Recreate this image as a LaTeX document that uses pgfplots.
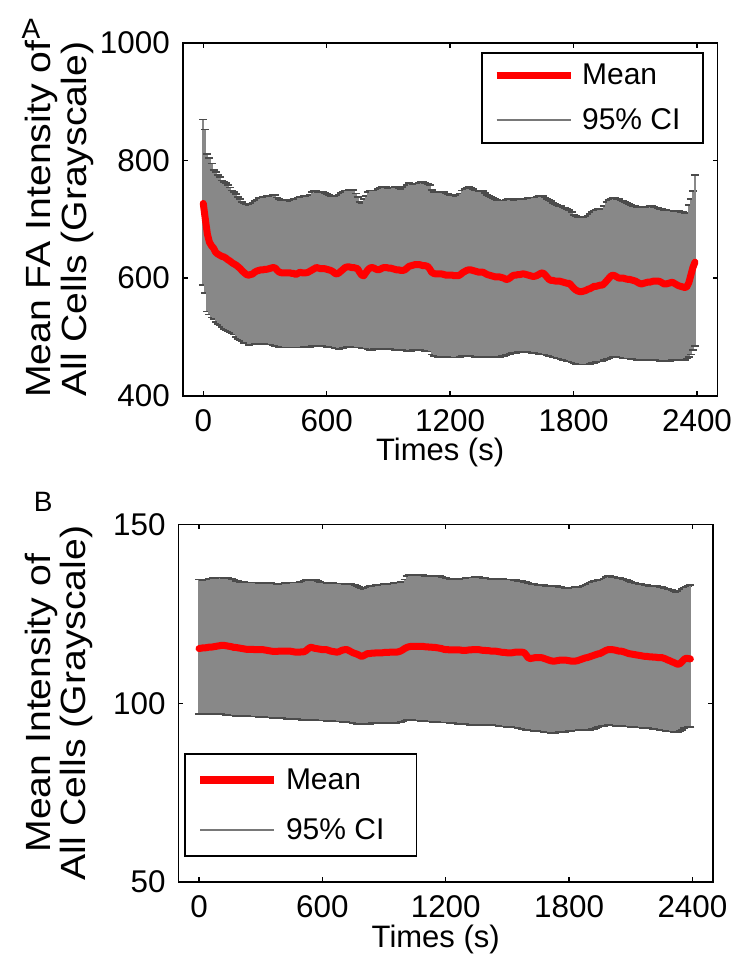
\documentclass[border=0pt]{standalone}
\usepackage{fontspec}
\setmainfont{Liberation Sans}
\usepackage{graphicx}
\usepackage{pgfplots}
\usepackage{pgfplotstable}
\pgfplotsset{compat=1.18}
\definecolor{barc}{RGB}{136,136,136}
\definecolor{capc}{RGB}{75,75,75}
\definecolor{legc}{RGB}{120,120,120}

% panel A: mean and 95% CI bounds, one row every 10 s
\pgfplotstableread{
t m hi lo
0 727 870 588
10 700 853 575
20 675 811 543
30 661 805 538
40 655 795 533
50 651 784 530
60 644 781 525
70 641 776 522
80 639 772 520
90 637 766 517
100 636 764 514
110 634 762 512
120 631 758 510
130 629 754 508
140 626 749 506
150 624 746 504
160 622 743 500
170 619 738 497
180 616 735 495
190 612 730 493
200 609 727 490
210 606 726 489
220 605 725 486
230 606 726 487
240 607 728 487
250 610 731 488
260 612 733 488
270 613 736 488
280 614 737 488
290 614 738 488
300 615 738 488
310 615 739 488
320 616 740 487
330 617 739 487
340 618 742 486
350 617 742 485
360 613 737 484
370 610 734 483
380 609 733 483
390 609 733 482
400 609 732 482
410 609 732 482
420 609 731 482
430 608 733 482
440 608 734 482
450 606 735 482
460 608 737 482
470 610 738 482
480 609 738 482
490 609 739 483
500 609 740 483
510 610 740 483
520 612 741 483
530 614 746 484
540 616 749 484
550 618 748 484
560 617 747 484
570 616 746 484
580 616 746 484
590 616 745 484
600 615 743 483
610 614 741 483
620 613 740 483
630 611 739 482
640 608 739 481
650 607 739 480
660 609 742 479
670 612 745 480
680 615 747 481
690 618 749 482
700 619 749 483
710 619 750 483
720 618 750 483
730 618 750 483
740 617 744 482
750 616 738 482
760 610 730 482
770 605 727 481
780 604 735 480
790 609 740 480
800 614 746 479
810 617 749 478
820 618 749 478
830 617 749 479
840 615 749 479
850 614 751 479
860 615 753 479
870 617 755 479
880 618 756 479
890 618 755 479
900 617 753 479
910 617 753 479
920 616 754 479
930 615 756 478
940 614 755 478
950 614 753 478
960 613 752 478
970 613 752 477
980 614 755 477
990 617 759 476
1000 620 762 476
1010 621 761 476
1020 622 760 477
1030 623 760 478
1040 623 761 478
1050 623 762 478
1060 622 763 477
1070 621 764 477
1080 621 762 476
1090 620 760 476
1100 616 758 475
1110 610 750 470
1120 608 746 467
1130 607 746 467
1140 607 747 466
1150 607 747 466
1160 607 747 466
1170 606 746 466
1180 605 744 466
1190 605 743 466
1200 605 742 466
1210 605 741 465
1220 604 741 465
1230 604 740 465
1240 604 741 465
1250 606 744 466
1260 609 749 467
1270 611 751 468
1280 613 753 468
1290 614 755 468
1300 614 753 467
1310 613 751 467
1320 612 749 466
1330 611 749 466
1340 610 748 466
1350 610 748 466
1360 610 748 466
1370 608 745 466
1380 606 742 466
1390 605 740 466
1400 604 738 466
1410 603 736 466
1420 602 734 466
1430 602 733 466
1440 602 732 466
1450 601 732 467
1460 600 732 468
1470 598 733 469
1480 598 734 470
1490 600 734 471
1500 603 734 472
1510 605 733 473
1520 605 733 473
1530 606 734 474
1540 606 734 474
1550 607 734 474
1560 607 735 474
1570 606 735 474
1580 605 736 474
1590 604 736 474
1600 603 737 473
1610 603 737 473
1620 604 738 472
1630 606 739 471
1640 608 740 471
1650 609 740 470
1660 606 737 470
1670 602 735 469
1680 598 733 468
1690 596 731 467
1700 596 728 466
1710 595 726 465
1720 595 724 464
1730 595 723 463
1740 594 722 462
1750 593 720 461
1760 592 719 460
1770 591 718 459
1780 591 716 458
1790 587 712 457
1800 583 708 456
1810 580 705 454
1820 578 704 454
1830 577 704 453
1840 577 703 453
1850 578 703 453
1860 579 704 453
1870 581 706 453
1880 582 709 454
1890 584 712 455
1900 586 715 456
1910 586 716 457
1920 587 717 458
1930 588 717 458
1940 588 717 458
1950 591 722 460
1960 595 730 462
1970 599 733 463
1980 603 735 465
1990 605 736 466
2000 604 736 466
2010 602 735 466
2020 600 734 466
2030 600 732 465
2040 600 731 464
2050 599 730 463
2060 598 728 463
2070 598 726 463
2080 597 724 462
2090 596 723 462
2100 595 722 462
2110 593 721 461
2120 591 721 461
2130 590 721 461
2140 591 721 460
2150 592 721 460
2160 593 721 460
2170 593 722 460
2180 594 722 460
2190 595 721 460
2200 595 720 460
2210 595 719 460
2220 594 718 459
2230 592 717 459
2240 590 716 459
2250 590 716 459
2260 591 715 459
2270 592 715 459
2280 593 715 460
2290 591 714 460
2300 589 714 460
2310 587 714 460
2320 586 713 460
2330 585 712 460
2340 584 711 461
2350 585 711 463
2360 592 725 466
2370 605 735 470
2380 618 748 478
2390 627 775 484
}\dataA

% panel B
\pgfplotstableread{
t m hi lo
0 115.3 134.6 97.1
10 115.4 134.6 97.1
20 115.5 134.5 97.1
30 115.5 134.5 97.1
40 115.6 134.6 97.1
50 115.7 134.8 97.1
60 115.7 134.9 97.0
70 115.8 135.0 97.0
80 115.9 135.1 97.0
90 116.0 135.1 97.0
100 116.1 135.2 96.9
110 116.2 135.2 96.9
120 116.2 135.1 96.9
130 116.1 135.0 96.8
140 116.0 135.0 96.8
150 115.9 134.9 96.7
160 115.8 134.8 96.6
170 115.6 134.6 96.6
180 115.6 134.3 96.5
190 115.5 134.1 96.5
200 115.4 134.0 96.5
210 115.3 133.9 96.4
220 115.2 133.9 96.4
230 115.1 133.8 96.4
240 115.1 133.8 96.4
250 115.1 133.8 96.4
260 115.1 133.8 96.3
270 115.0 133.8 96.3
280 115.0 133.8 96.3
290 115.0 133.7 96.2
300 115.0 133.7 96.2
310 115.0 133.6 96.2
320 114.9 133.6 96.1
330 114.8 133.6 96.1
340 114.7 133.6 96.0
350 114.6 133.6 96.0
360 114.5 133.5 95.9
370 114.5 133.5 95.9
380 114.5 133.4 95.9
390 114.6 133.4 95.9
400 114.6 133.4 95.8
410 114.6 133.5 95.8
420 114.6 133.6 95.8
430 114.6 133.6 95.7
440 114.6 133.7 95.7
450 114.5 133.8 95.7
460 114.4 133.8 95.6
470 114.3 133.8 95.6
480 114.3 133.8 95.5
490 114.3 133.9 95.5
500 114.4 134.0 95.4
510 114.4 134.2 95.4
520 114.7 134.4 95.4
530 115.2 134.5 95.4
540 115.6 134.5 95.3
550 115.6 134.5 95.3
560 115.4 134.5 95.3
570 115.3 134.5 95.3
580 115.2 134.3 95.3
590 115.1 134.0 95.2
600 115.0 133.8 95.2
610 115.0 133.8 95.2
620 115.0 133.7 95.1
630 114.8 133.6 95.1
640 114.6 133.6 95.1
650 114.5 133.6 95.0
660 114.4 133.5 95.0
670 114.3 133.5 94.9
680 114.4 133.5 94.9
690 114.7 133.5 94.9
700 114.9 133.5 94.8
710 115.0 133.4 94.8
720 115.0 133.4 94.8
730 114.7 133.4 94.7
740 114.4 133.3 94.6
750 114.1 133.2 94.5
760 113.9 133.0 94.4
770 113.7 132.9 94.3
780 113.4 132.6 94.3
790 113.1 132.1 94.3
800 113.3 132.0 94.3
810 113.6 132.3 94.3
820 113.9 132.6 94.3
830 113.9 132.7 94.3
840 114.0 132.8 94.4
850 114.0 132.9 94.4
860 114.1 133.0 94.4
870 114.1 133.0 94.5
880 114.1 133.1 94.5
890 114.1 133.2 94.5
900 114.2 133.3 94.5
910 114.2 133.3 94.5
920 114.2 133.4 94.5
930 114.3 133.4 94.5
940 114.3 133.5 94.5
950 114.3 133.6 94.5
960 114.3 133.7 94.5
970 114.4 133.8 94.6
980 114.6 133.9 94.7
990 114.9 134.0 94.9
1000 115.3 134.6 95.2
1010 115.6 135.6 95.4
1020 115.8 135.8 95.4
1030 115.9 135.8 95.4
1040 115.9 135.8 95.3
1050 115.9 135.8 95.3
1060 115.9 135.8 95.2
1070 115.9 135.8 95.2
1080 115.9 135.8 95.1
1090 115.9 135.8 95.1
1100 115.8 135.7 95.0
1110 115.8 135.7 95.0
1120 115.7 135.7 94.9
1130 115.7 135.6 94.9
1140 115.6 135.6 94.8
1150 115.6 135.6 94.8
1160 115.5 135.5 94.7
1170 115.4 135.5 94.7
1180 115.3 135.4 94.6
1190 115.1 135.2 94.6
1200 115.0 135.0 94.6
1210 115.0 134.9 94.6
1220 114.9 134.8 94.5
1230 114.9 134.8 94.5
1240 114.9 134.8 94.4
1250 114.9 134.8 94.4
1260 114.9 134.8 94.3
1270 114.9 134.8 94.3
1280 114.8 134.8 94.3
1290 114.8 134.9 94.2
1300 114.8 135.0 94.1
1310 114.9 135.1 94.1
1320 114.9 135.2 94.0
1330 115.0 135.2 94.0
1340 115.0 135.3 93.9
1350 115.0 135.3 93.9
1360 115.0 135.3 93.9
1370 114.9 135.2 93.9
1380 114.8 135.1 93.9
1390 114.8 135.0 93.9
1400 114.7 134.9 93.9
1410 114.7 134.9 93.9
1420 114.6 134.8 93.9
1430 114.6 134.8 93.9
1440 114.6 134.8 93.9
1450 114.5 134.8 93.8
1460 114.4 134.7 93.7
1470 114.3 134.7 93.6
1480 114.2 134.7 93.5
1490 114.2 134.6 93.5
1500 114.1 134.6 93.4
1510 114.1 134.6 93.4
1520 114.1 134.6 93.4
1530 114.2 134.5 93.3
1540 114.3 134.4 93.2
1550 114.3 134.3 93.1
1560 114.3 134.2 93.0
1570 114.3 134.1 92.9
1580 114.2 134.0 92.8
1590 113.6 133.9 92.6
1600 112.8 133.7 92.5
1610 112.5 133.5 92.5
1620 112.6 133.4 92.4
1630 112.7 133.3 92.3
1640 112.8 133.2 92.3
1650 112.8 133.1 92.3
1660 112.8 133.0 92.2
1670 112.7 133.0 92.1
1680 112.5 133.0 92.0
1690 112.3 132.9 91.9
1700 112.1 132.8 91.8
1710 111.9 132.7 91.7
1720 111.8 132.7 91.7
1730 111.8 132.7 91.7
1740 111.9 132.7 91.8
1750 112.0 132.6 91.9
1760 112.1 132.5 92.0
1770 112.1 132.4 92.0
1780 112.1 132.3 92.0
1790 112.0 132.3 92.1
1800 111.9 132.3 92.2
1810 111.8 132.3 92.3
1820 111.8 132.4 92.4
1830 111.8 132.5 92.4
1840 111.9 132.5 92.4
1850 112.1 132.5 92.5
1860 112.3 132.5 92.5
1870 112.5 132.7 92.5
1880 112.7 133.0 92.6
1890 112.8 133.4 92.6
1900 113.0 133.8 92.6
1910 113.2 133.9 92.7
1920 113.4 134.1 92.9
1930 113.6 134.3 93.1
1940 113.8 134.4 93.3
1950 113.9 134.5 93.5
1960 114.2 134.6 93.6
1970 114.5 134.9 93.7
1980 114.8 135.3 93.8
1990 115.0 135.5 93.9
2000 115.0 135.5 93.9
2010 115.0 135.4 93.9
2020 114.9 135.3 93.8
2030 114.8 135.2 93.7
2040 114.6 135.1 93.6
2050 114.6 135.0 93.6
2060 114.5 134.8 93.6
2070 114.3 134.6 93.6
2080 114.1 134.4 93.5
2090 113.9 134.2 93.5
2100 113.8 133.9 93.4
2110 113.7 133.8 93.4
2120 113.6 133.6 93.3
2130 113.5 133.5 93.3
2140 113.4 133.4 93.2
2150 113.3 133.3 93.2
2160 113.2 133.2 93.1
2170 113.1 133.1 93.1
2180 113.1 133.0 93.0
2190 113.0 132.9 93.0
2200 113.0 132.9 93.0
2210 112.9 132.8 92.9
2220 112.9 132.8 92.8
2230 112.8 132.7 92.7
2240 112.8 132.6 92.6
2250 112.8 132.5 92.5
2260 112.6 132.3 92.4
2270 112.4 132.1 92.3
2280 112.1 131.9 92.2
2290 111.9 131.8 92.1
2300 111.6 131.6 92.1
2310 111.4 131.4 92.0
2320 111.1 131.2 92.0
2330 110.9 131.1 92.0
2340 111.1 131.4 92.2
2350 111.7 131.9 92.6
2360 112.3 132.4 93.0
2370 112.6 132.6 93.2
2380 112.5 132.8 93.3
2390 112.4 133.0 93.4
}\dataB

\newcommand{\ylab}[2]{\scalebox{1.12}[1]{\fontsize{17.5}{17}\selectfont\begin{tabular}[b]{@{}c@{}}#1\\#2\end{tabular}}}

\pgfplotsset{
  panel/.style={
    scale only axis,
    xmin=-100, xmax=2500,
    xtick={0,600,...,2400},
    tick pos=both, tick align=inside,
    major tick length=2.4pt,
    every tick/.style={black, line width=0.7pt},
    axis line style={line width=0.9pt},
    /pgf/number format/assume math mode=true,
    /pgf/number format/1000 sep={},
    ticklabel style={font=\fontsize{15.7}{18}\selectfont},
    xticklabel style={yshift=-3.4pt},
    yticklabel style={xshift=-2.9pt},
    xlabel={Times (s)},
    xlabel style={font=\fontsize{15.5}{18}\selectfont, at={(axis description cs:0.5,0)}, anchor=base, yshift=-32.6pt, xshift=-5pt},
    legend cell align=left,
    legend image code/.code={\draw[##1] (0pt,0.1pt) -- (37pt,0.1pt);},
  },
  cibars/.style={
    forget plot, draw=none, mark=none,
    error bars/.cd, y dir=both, y explicit,
    error bar style={line width=1.1pt, draw=barc, solid},
    error mark options={rotate=90, mark size=2pt, line width=0.9pt, draw=capc},
  },
  meanline/.style={forget plot, red, line width=3.5pt, line join=round, line cap=round},
}

\begin{document}
\begin{tikzpicture}
\useasboundingbox (0,0) rectangle (365.5pt,-482.5pt);

\node[font=\fontsize{14}{16}\selectfont, inner sep=0pt] at (15.5pt,-14.5pt) {A};
\node[font=\fontsize{14}{16}\selectfont, inner sep=0pt] at (21.65pt,-251pt) {B};

\begin{axis}[panel,
  at={(91.35pt,-197.8pt)}, anchor=south west,
  width=267.45pt, height=176.3pt,
  ymin=400, ymax=1000, ytick={400,600,800,1000},
  ylabel={\ylab{Mean FA Intensity of}{All Cells (Grayscale)}},
  ylabel style={at={(axis description cs:-0.1807,0.5)}, anchor=base, inner sep=0pt},
  legend style={at={(0.9744,0.9745)}, anchor=north east, draw=black, line width=0.8pt,
    font=\fontsize{15}{18}\selectfont, inner xsep=5.5pt, inner ysep=0pt,
    row sep=0pt, column sep=4pt,
    nodes={inner sep=0pt, text height=16pt, text depth=6.5pt}},
]
\addplot[cibars] table[x=t, y=m, y error plus expr=\thisrow{hi}-\thisrow{m}, y error minus expr=\thisrow{m}-\thisrow{lo}] {\dataA};
\addplot[meanline] table[x=t, y=m] {\dataA};
\addlegendimage{red, line width=3.6pt}
\addlegendentry{Mean}
\addlegendimage{legc, line width=0.7pt}
\addlegendentry{95\% CI\hspace*{5.8pt}}
\end{axis}

\begin{axis}[panel,
  at={(89.25pt,-441pt)}, anchor=south west,
  width=267.25pt, height=178.75pt,
  ymin=50, ymax=150, ytick={50,100,150},
  ylabel={\ylab{Mean Intensity of}{All Cells (Grayscale)}},
  ylabel style={at={(axis description cs:-0.1731,0.5)}, anchor=base, inner sep=0pt},
  legend style={at={(0.0103,0.070)}, anchor=south west, draw=black, line width=0.8pt,
    font=\fontsize{15}{18}\selectfont, inner xsep=6pt, inner ysep=0.5pt,
    row sep=0pt, column sep=4pt,
    nodes={inner sep=0pt, text height=17pt, text depth=8pt}},
]
\addplot[cibars] table[x=t, y=m, y error plus expr=\thisrow{hi}-\thisrow{m}, y error minus expr=\thisrow{m}-\thisrow{lo}] {\dataB};
\addplot[meanline] table[x=t, y=m] {\dataB};
\addlegendimage{red, line width=3.6pt}
\addlegendentry{Mean}
\addlegendimage{legc, line width=0.7pt}
\addlegendentry{95\% CI\hspace*{10pt}}
\end{axis}
\end{tikzpicture}
\end{document}
